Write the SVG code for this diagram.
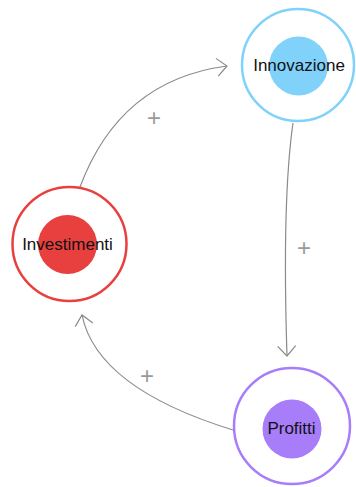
<svg xmlns="http://www.w3.org/2000/svg" width="356" height="487" viewBox="0 0 356 487">
<style>
.edge{fill:none;stroke:#8a8a8a;stroke-width:1.2;marker-end:url(#arr)}
.pol{font-family:"Liberation Sans",Arial,sans-serif;font-size:24px;fill:#9a9a9a;text-anchor:middle}
.outer{fill:#fff;stroke-width:2.5}
.lbl{font-family:"Liberation Sans",Arial,sans-serif;font-size:17px;fill:#111;text-anchor:middle}
</style>
<defs>
<marker id="arr" markerUnits="userSpaceOnUse" markerWidth="24" markerHeight="24" viewBox="-12 -12 24 24" refX="0" refY="0" orient="auto">
<path d="M-10,-9 L0,0 L-10,9" fill="none" stroke="#8a8a8a" stroke-width="1.2"/>
</marker>
</defs>
<g id="connectors">
<path class="edge" d="M80,187 Q120,80 227,66"/>
<text class="pol" x="154" y="126.3">+</text>
<path class="edge" d="M293,123 Q282,200 287,356"/>
<text class="pol" x="304" y="256.3">+</text>
<path class="edge" d="M233,430 Q97,388 82,315"/>
<text class="pol" x="147" y="384.3">+</text>
</g>
<g id="node-innovazione">
<circle class="outer" cx="298" cy="65" r="56" stroke="#80D2FB"/>
<circle cx="298.5" cy="66" r="29.5" fill="#80D2FB"/>
<text class="lbl" x="299" y="70.5">Innovazione</text>
</g>
<g id="node-investimenti">
<circle class="outer" cx="69.5" cy="244" r="57" stroke="#E8403F"/>
<circle cx="67.5" cy="244.5" r="29.5" fill="#E8403F"/>
<text class="lbl" x="67.5" y="250">Investimenti</text>
</g>
<g id="node-profitti">
<circle class="outer" cx="292" cy="426" r="58" stroke="#A77DF9"/>
<circle cx="292" cy="429" r="29.5" fill="#A77DF9"/>
<text class="lbl" x="291.5" y="434">Profitti</text>
</g>
</svg>
